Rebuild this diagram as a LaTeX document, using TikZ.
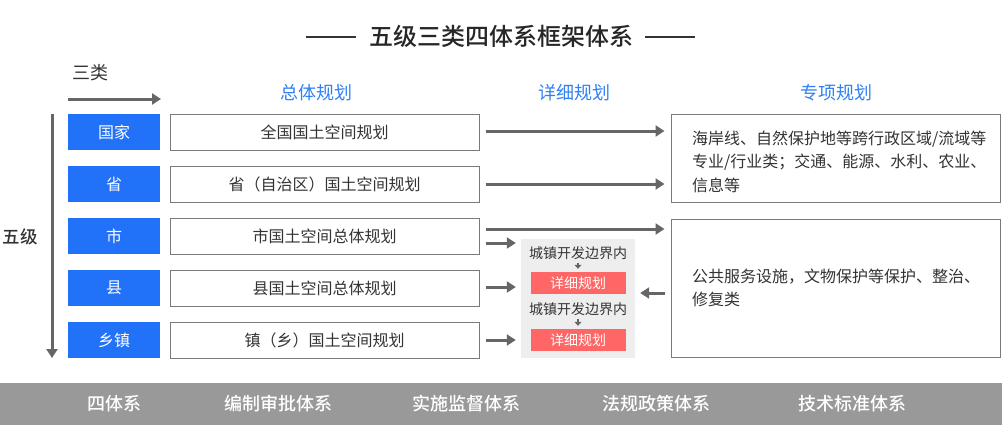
\documentclass[tikz,border=0pt]{standalone}
\usepackage{fontspec}
\setmainfont{Noto Sans CJK SC}
\newfontfamily\cjkb{Noto Sans CJK SC Medium}
\usetikzlibrary{arrows.meta}
\definecolor{blueA}{HTML}{2271F9}
\definecolor{headblue}{HTML}{2E80F5}
\definecolor{arrgray}{HTML}{666666}
\definecolor{boxgray}{HTML}{7A7A7A}
\definecolor{txt}{HTML}{333333}
\definecolor{panel}{HTML}{EEEEEE}
\definecolor{redbox}{HTML}{FF6666}
\definecolor{band}{HTML}{999999}
\tikzset{
  lvl/.style={fill=blueA, text=white, minimum width=92pt, minimum height=36pt, inner sep=0pt, font=\fontsize{16}{18}\selectfont},
  plan/.style={draw=boxgray, line width=1pt, fill=white, text=txt, minimum width=309pt, minimum height=36pt, inner sep=0pt, font=\fontsize{16}{18}\selectfont},
  rbox/.style={draw=boxgray, line width=1pt, fill=white, minimum width=329pt, inner sep=0pt},
  rtext/.style={anchor=west, align=left, text=txt, inner sep=0pt, font=\fontsize{16}{23.5}\selectfont},
  head/.style={text=headblue, font=\fontsize{18}{20}\selectfont},
  arr/.style={draw=arrgray, line width=3pt, -{Triangle[length=9pt,width=11pt]}},
  tinyarr/.style={draw=arrgray, line width=1.5pt, -{Triangle[length=4pt,width=7pt]}},
  redb/.style={fill=redbox, text=white, minimum width=95pt, minimum height=22pt, inner sep=0pt, font=\fontsize{14}{15}\selectfont},
  small/.style={text=txt, inner sep=0pt, font=\fontsize{14}{15}\selectfont},
  bandtxt/.style={text=white, font=\cjkb\fontsize{18}{20}\selectfont},
}
\begin{document}
\begin{tikzpicture}[x=1pt,y=-1pt]
\useasboundingbox (0,0) rectangle (1002,440);
% title
\node[text=black!85, font=\cjkb\fontsize{24}{26}\selectfont] (title) at (501,36) {五级三类四体系框架体系};
\coordinate (tl1) at (306,37); \coordinate (tl2) at (356,37);
\coordinate (tr1) at (645,37); \coordinate (tr2) at (695,37);
\draw[black!80, line width=2pt] (tl1) -- (tl2);
\draw[black!80, line width=2pt] (tr1) -- (tr2);
% axes
\node[text=txt, font=\fontsize{18}{20}\selectfont] (sanlei) at (90,73) {三类};
\coordinate (ha) at (68,99); \coordinate (hb) at (161,99);
\draw[arr] (ha) -- (hb);
\coordinate (va) at (52,114); \coordinate (vb) at (52,358);
\draw[arr] (va) -- (vb);
\node[text=txt, font=\cjkb\fontsize{17.5}{19}\selectfont] (wuji) at (20,237) {五级};
% headers
\node[head] (h1) at (316,93) {总体规划};
\node[head] (h2) at (574,93) {详细规划};
\node[head] (h3) at (836,93) {专项规划};
% levels
\node[lvl] (l1) at (114,132) {国家};
\node[lvl] (l2) at (114,184) {省};
\node[lvl] (l3) at (114,236) {市};
\node[lvl] (l4) at (114,288) {县};
\node[lvl] (l5) at (114,340) {乡镇};
\node[plan] (p1) at (324.5,132) {全国国土空间规划};
\node[plan] (p2) at (324.5,184) {省（自治区）国土空间规划};
\node[plan] (p3) at (324.5,236) {市国土空间总体规划};
\node[plan] (p4) at (324.5,288) {县国土空间总体规划};
\node[plan] (p5) at (324.5,340) {镇（乡）国土空间规划};
% right boxes
\node[rbox, minimum height=88pt] (r1) at (835.5,158) {};
\node[rtext] (r1t) at (692,161.5) {海岸线、自然保护地等跨行政区域/流域等\\专业/行业类；交通、能源、水利、农业、\\信息等};
\node[rbox, minimum height=138pt] (r2) at (835.5,288) {};
\node[rtext] (r2t) at (692,288) {公共服务设施，文物保护等保护、整治、\\修复类};
% detail panel
\node[fill=panel, minimum width=114pt, minimum height=119pt, inner sep=0pt] (pan) at (578,298.5) {};
\node[small] (c1) at (578,253) {城镇开发边界内};
\node[redb] (d1) at (578,283) {详细规划};
\node[small] (c2) at (578,309) {城镇开发边界内};
\node[redb] (d2) at (578,340) {详细规划};
\draw[tinyarr] ([yshift=-3pt]c1.south) -- ([yshift=3pt]d1.north);
\draw[tinyarr] ([yshift=-3pt]c2.south) -- ([yshift=3pt]d2.north);
% arrows
\draw[arr] ([xshift=6pt,yshift=1pt]p1.east) -- ([xshift=-6pt,yshift=1pt]p1.east -| r1.west);
\draw[arr] ([xshift=6pt]p2.east) -- ([xshift=-6pt]p2.east -| r1.west);
\draw[arr] ([xshift=6pt,yshift=7pt]p3.east) -- ([xshift=-6pt,yshift=7pt]p3.east -| r2.west);
\draw[arr] ([xshift=6pt,yshift=-7pt]p3.east) -- ([xshift=-5pt,yshift=-7pt]p3.east -| pan.west);
\draw[arr] ([xshift=6pt,yshift=1pt]p4.east) -- ([xshift=-5pt,yshift=1pt]p4.east -| pan.west);
\draw[arr] ([xshift=6pt]p5.east) -- ([xshift=-5pt]p5.east -| pan.west);
\draw[arr] ([xshift=-6pt,yshift=-5pt]r2.west) -- ([xshift=5pt,yshift=-5pt]r2.west -| pan.east);
% band
\node[fill=band, minimum width=1002pt, minimum height=42pt, inner sep=0pt] (bandbg) at (501,404) {};
\node[bandtxt] (b1) at (114,404) {四体系};
\node[bandtxt] (b2) at (278,404) {编制审批体系};
\node[bandtxt] (b3) at (466,404) {实施监督体系};
\node[bandtxt] (b4) at (656,404) {法规政策体系};
\node[bandtxt] (b5) at (852,404) {技术标准体系};
\end{tikzpicture}
\end{document}
